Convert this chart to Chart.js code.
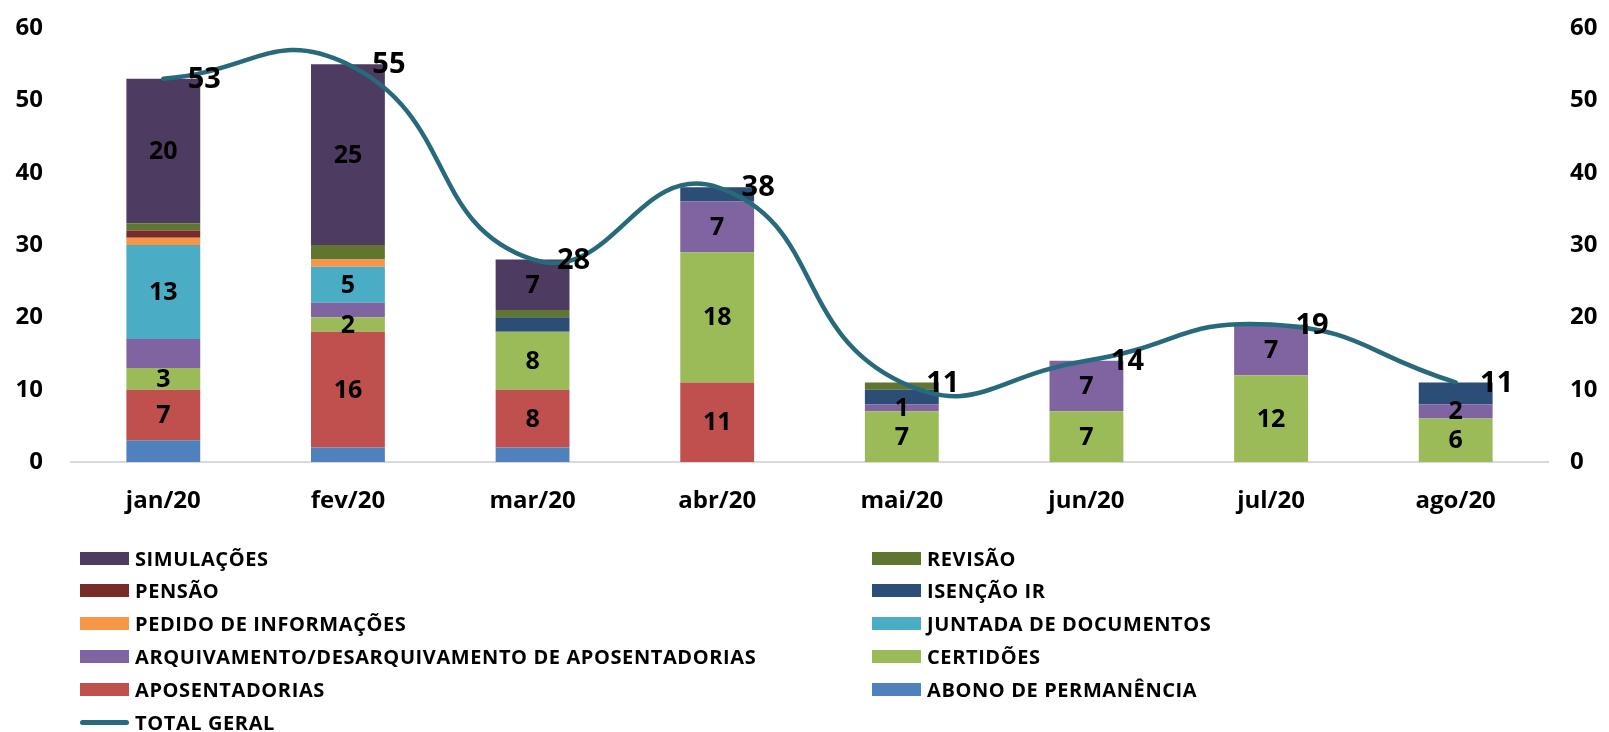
<!DOCTYPE html>
<html>
<head>
<meta charset="utf-8">
<script src="https://cdn.jsdelivr.net/npm/chart.js@4.4.1/dist/chart.umd.min.js"></script>
<style>
  html, body { margin: 0; padding: 0; background: #fff; }
  #wrap { position: relative; width: 1609px; height: 732px; overflow: hidden; }
  #wrap canvas { position: absolute; left: 0; top: 0; }
  .lg { position: absolute; display: flex; align-items: center; height: 24px;
        font-family: "Open Sans", sans-serif; font-weight: 700; font-size: 20px; letter-spacing: 0.6px; color: #000; white-space: nowrap; }
  .sw { width: 49px; height: 13px; margin-right: 6px; flex: none; }
  .swl { width: 49px; height: 5px; border-radius: 3px; margin-right: 6px; flex: none; }
</style>
</head>
<body>
<div id="wrap"><canvas id="c" width="1609" height="732"></canvas></div>
<script>
const categories = ['jan/20', 'fev/20', 'mar/20', 'abr/20', 'mai/20', 'jun/20', 'jul/20', 'ago/20'];

const abono        = [3, 2, 2, 0, 0, 0, 0, 0];
const aposentadorias = [7, 16, 8, 11, 0, 0, 0, 0];
const certidoes    = [3, 2, 8, 18, 7, 7, 12, 6];
const arquivamento = [4, 2, 0, 7, 1, 7, 7, 2];
const juntada      = [13, 5, 0, 0, 0, 0, 0, 0];
const pedido       = [1, 1, 0, 0, 0, 0, 0, 0];
const isencao      = [0, 0, 2, 2, 2, 0, 0, 3];
const pensao       = [1, 0, 0, 0, 0, 0, 0, 0];
const revisao      = [1, 2, 1, 0, 1, 0, 0, 0];
const simulacoes   = [20, 25, 7, 0, 0, 0, 0, 0];
const totalGeral   = [53, 55, 28, 38, 11, 14, 19, 11];

const yTicks = [0, 10, 20, 30, 40, 50, 60];

// which bar segments carry a value label (1 = shown)
const labelMaskAposentadorias = [1, 1, 1, 1, 1, 1, 1, 1];
const labelMaskCertidoes      = [1, 1, 1, 1, 1, 1, 1, 1];
const labelMaskArquivamento   = [0, 0, 1, 1, 1, 1, 1, 1];
const labelMaskJuntada        = [1, 1, 1, 1, 1, 1, 1, 1];
const labelMaskSimulacoes     = [1, 1, 1, 1, 1, 1, 1, 1];
const labelMaskNone           = [0, 0, 0, 0, 0, 0, 0, 0];

// stacking order bottom -> top
const barSeries = [
  { label: 'ABONO DE PERMANÊNCIA', data: abono, color: '#4F81BD', mask: labelMaskNone },
  { label: 'APOSENTADORIAS', data: aposentadorias, color: '#C0504D', mask: labelMaskAposentadorias },
  { label: 'CERTIDÕES', data: certidoes, color: '#9BBB59', mask: labelMaskCertidoes },
  { label: 'ARQUIVAMENTO/DESARQUIVAMENTO DE APOSENTADORIAS', data: arquivamento, color: '#8064A2', mask: labelMaskArquivamento },
  { label: 'JUNTADA DE DOCUMENTOS', data: juntada, color: '#4BACC6', mask: labelMaskJuntada },
  { label: 'PEDIDO DE INFORMAÇÕES', data: pedido, color: '#F79646', mask: labelMaskNone },
  { label: 'ISENÇÃO IR', data: isencao, color: '#2C4D75', mask: labelMaskNone },
  { label: 'PENSÃO', data: pensao, color: '#772C2A', mask: labelMaskNone },
  { label: 'REVISÃO', data: revisao, color: '#5F7530', mask: labelMaskNone },
  { label: 'SIMULAÇÕES', data: simulacoes, color: '#4D3B62', mask: labelMaskSimulacoes }
];
const lineColor = '#276A7C';

const datasets = barSeries.map(s => ({
  type: 'bar', label: s.label, data: s.data, backgroundColor: s.color,
  borderWidth: 0, stack: 's', order: 2, yAxisID: 'y',
  barPercentage: 0.4, categoryPercentage: 1.0, labelMask: s.mask
}));
datasets.push({
  type: 'line', label: 'TOTAL GERAL', data: totalGeral, borderColor: lineColor,
  backgroundColor: lineColor, borderWidth: 4.5, tension: 0.5, pointRadius: 0,
  borderCapStyle: 'round', fill: false, order: 1, yAxisID: 'y', clip: false
});

const labelPlugin = {
  id: 'labels',
  afterDatasetsDraw(chart) {
    const ctx = chart.ctx;
    ctx.save();
    ctx.fillStyle = '#000';
    ctx.textAlign = 'center';
    ctx.textBaseline = 'middle';
    chart.data.datasets.forEach((ds, di) => {
      const meta = chart.getDatasetMeta(di);
      if (ds.type === 'bar') {
        ctx.font = '700 25px "Open Sans"';
        meta.data.forEach((el, i) => {
          const v = ds.data[i];
          if (!v || !ds.labelMask[i]) return;
          ctx.fillText(String(v), el.x, (el.y + el.base) / 2 + 1);
        });
      } else {
        ctx.font = '700 29px "Open Sans"';
        meta.data.forEach((el, i) => {
          ctx.fillText(String(ds.data[i]), el.x + 41, el.y + 1);
        });
      }
    });
    ctx.restore();
  }
};

const tickFont = { family: '"Open Sans"', weight: '700', size: 24 };

new Chart(document.getElementById('c'), {
  data: { labels: categories, datasets },
  options: {
    responsive: false,
    animation: false,
    layout: { padding: { top: 28, bottom: 200, left: 0, right: 0 } },
    plugins: { legend: { display: false }, tooltip: { enabled: false } },
    scales: {
      x: {
        stacked: true,
        grid: { display: false, drawTicks: false },
        border: { display: true, color: '#D9D9D9', width: 2 },
        ticks: { color: '#000', font: tickFont, padding: 25, maxRotation: 0 },
        afterFit(s) { s.height = 70; }
      },
      y: {
        stacked: true, min: 0, max: 60,
        afterBuildTicks(s) { s.ticks = yTicks.map(v => ({ value: v })); },
        grid: { display: false, drawTicks: false },
        border: { display: false },
        ticks: { color: '#000', font: tickFont, padding: 28 },
        afterFit(s) { s.width = 71; s.paddingTop = 0; s.paddingBottom = 0; }
      },
      y2: {
        position: 'right', min: 0, max: 60,
        afterBuildTicks(s) { s.ticks = yTicks.map(v => ({ value: v })); },
        grid: { display: false, drawTicks: false },
        border: { display: false },
        ticks: { color: '#000', font: tickFont, padding: 22 },
        afterFit(s) { s.width = 61; s.paddingTop = 0; s.paddingBottom = 0; }
      }
    }
  },
  plugins: [labelPlugin]
});

// HTML legend (two columns, row-major order)
const legendOrder = [
  'SIMULAÇÕES', 'REVISÃO', 'PENSÃO', 'ISENÇÃO IR', 'PEDIDO DE INFORMAÇÕES',
  'JUNTADA DE DOCUMENTOS', 'ARQUIVAMENTO/DESARQUIVAMENTO DE APOSENTADORIAS',
  'CERTIDÕES', 'APOSENTADORIAS', 'ABONO DE PERMANÊNCIA', 'TOTAL GERAL'
];
const wrap = document.getElementById('wrap');
legendOrder.forEach((name, i) => {
  const col = i % 2, row = Math.floor(i / 2);
  const d = document.createElement('div');
  d.className = 'lg';
  d.style.left = (col === 0 ? 80 : 872) + 'px';
  d.style.top = (558 + row * 32.85 - 12) + 'px';
  const sw = document.createElement('span');
  if (name === 'TOTAL GERAL') {
    sw.className = 'swl'; sw.style.background = lineColor;
  } else {
    sw.className = 'sw'; sw.style.background = barSeries.find(s => s.label === name).color;
  }
  const t = document.createElement('span');
  t.textContent = name;
  d.appendChild(sw); d.appendChild(t);
  wrap.appendChild(d);
});
</script>
</body>
</html>
